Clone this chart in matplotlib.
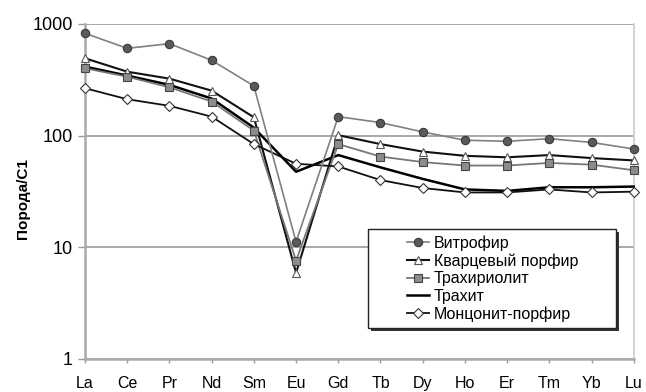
import matplotlib
matplotlib.use("Agg")
import matplotlib.pyplot as plt
from matplotlib.patches import Rectangle
from matplotlib.ticker import FixedLocator, NullLocator

plt.rcParams['font.family'] = ['Liberation Sans', 'DejaVu Sans']

elements = ["La", "Ce", "Pr", "Nd", "Sm", "Eu", "Gd", "Tb", "Dy", "Ho", "Er", "Tm", "Yb", "Lu"]

vitrofir = [826, 605, 667, 473, 279, 11.2, 148, 131, 108, 91, 89, 94, 87, 76]
kvarc_porfir = [493, 374, 324, 253, 146, 5.9, 101, 84, 72, 66, 64, 67, 63, 60]
trahiriolit = [401, 337, 271, 202, 111, 7.6, 84, 65, 58, 54, 54, 57, 55, 49]
trahit = [415, 345, 285, 215, 118, 47.5, 67, 52, 41, 33, 32, 34.5, 34.5, 35]
moncon_porfir = [266, 212, 185, 148, 84, 56, 53, 40, 34, 31, 31, 33, 31, 31.5]

labels = ["Витрофир", "Кварцевый порфир", "Трахириолит", "Трахит", "Монцонит-порфир"]

fig = plt.figure(figsize=(6.46, 3.92), dpi=100)
ax = fig.add_axes([0.1316, 0.0842, 0.8494, 0.8546])

x = list(range(len(elements)))

ax.plot(x, vitrofir, color='#808080', lw=1.2, marker='o', ms=6,
        mfc='#5a5a5a', mec='#3a3a3a', mew=0.8, label=labels[0], clip_on=False, zorder=5)
ax.plot(x, kvarc_porfir, color='#111111', lw=1.5, marker='^', ms=6,
        mfc='white', mec='#555555', mew=0.8, label=labels[1], clip_on=False, zorder=4)
ax.plot(x, trahiriolit, color='#777777', lw=1.3, marker='s', ms=5.5,
        mfc='#8c8c8c', mec='#444444', mew=0.8, label=labels[2], clip_on=False, zorder=4)
ax.plot(x, trahit, color='black', lw=1.8, label=labels[3], clip_on=False, zorder=3)
ax.plot(x, moncon_porfir, color='#111111', lw=1.3, marker='D', ms=4.8,
        mfc='white', mec='#333333', mew=0.8, label=labels[4], clip_on=False, zorder=4)

ax.set_yscale('log')
ax.set_ylim(1, 1000)
ax.set_xlim(0, 13)
ax.yaxis.set_major_locator(FixedLocator([1, 10, 100, 1000]))
ax.yaxis.set_minor_locator(NullLocator())
ax.set_yticklabels(["1", "10", "100", "1000"], fontsize=13)
ax.set_xticks(x)
ax.set_xticklabels(elements, fontsize=11.5)
ax.tick_params(axis='y', length=5, width=1, color='#999999', pad=4)
ax.tick_params(axis='x', length=3, width=1, color='#999999', pad=9)

ax.grid(True, axis='y', color='#999999', lw=1.2, zorder=0)
for side in ['left', 'bottom']:
    ax.spines[side].set_color('#aaaaaa')
    ax.spines[side].set_linewidth(1.8)
ax.spines['top'].set_visible(False)
ax.spines['right'].set_color('#cccccc')
ax.spines['right'].set_linewidth(1.2)

ax.set_ylabel("Порода/С1", fontsize=11, fontweight='bold')
ax.yaxis.set_label_coords(-0.100, 0.48)

# legend box with shadow
ax.add_patch(Rectangle((0.521, 0.084), 0.452, 0.295, transform=ax.transAxes,
                       facecolor='#333333', edgecolor='none', zorder=6, clip_on=False))
ax.add_patch(Rectangle((0.515, 0.093), 0.452, 0.295, transform=ax.transAxes,
                       facecolor='white', edgecolor='#222222', lw=1, zorder=7, clip_on=False))
leg = ax.legend(loc='center', bbox_to_anchor=(0.743, 0.240), frameon=False,
                fontsize=11.5, handlelength=1.4, handletextpad=0.3, labelspacing=0.15,
                borderpad=0.2)
leg.set_zorder(8)

fig.savefig("out.png", dpi=100)
